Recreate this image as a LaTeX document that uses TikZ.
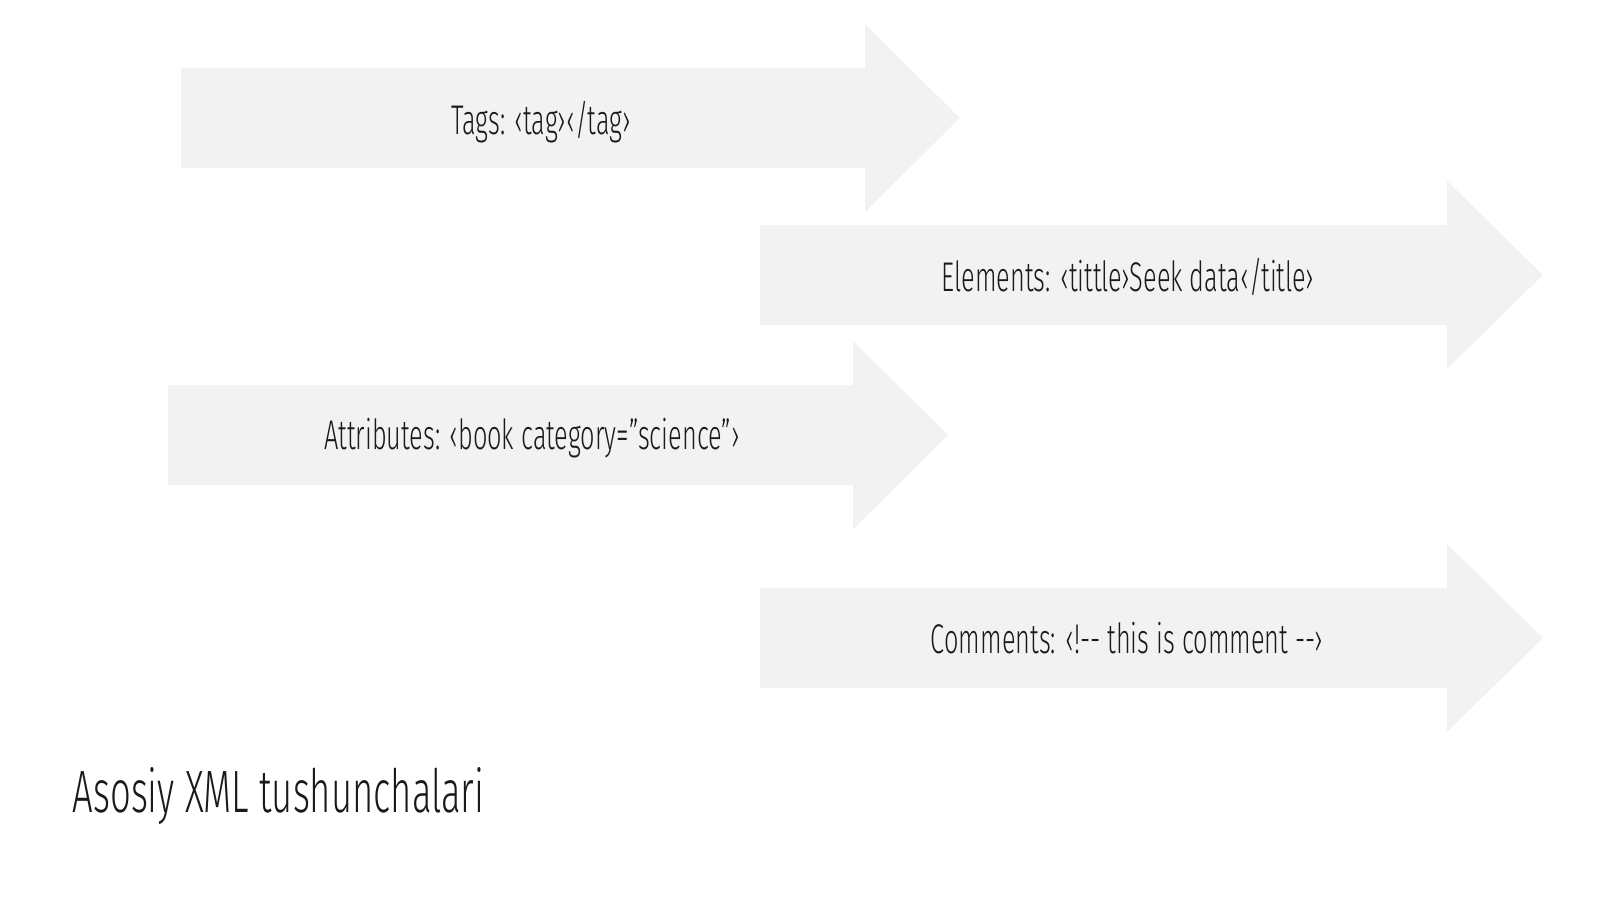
\documentclass[tikz,border=0pt]{standalone}
\usepackage{fontspec}
\setmainfont{Fira Sans Light}[FakeStretch=0.61]
\definecolor{arrowgray}{HTML}{F2F2F2}
\definecolor{inkdark}{HTML}{1A1A1A}
\tikzset{
	arrowfill/.style={fill=arrowgray, draw=none},
	arrowtext/.style={inner sep=0pt, anchor=base, text=inkdark, font=\fontsize{11.8}{14}\selectfont}
}
\begin{document}
\begin{tikzpicture}[x=0.01cm, y=-0.01cm, line join=round]
	%%%%%%%%%%%%%%%%%%%%%%%%%%%%%%%%%
	\useasboundingbox (0,0) rectangle (1600,900);
	%%%%%%%%%%%%%%%%%%%%%%%%%%%%%%%%%
	\foreach \xa/\xb/\xc/\yc in {181/865/960/118, 760/1447/1543/275, 168/853/948/435, 760/1447/1543/638}{
		\fill[arrowfill] (\xa,\yc-50) -- (\xb,\yc-50) -- (\xb,\yc-94) -- (\xc,\yc)
			-- (\xb,\yc+94) -- (\xb,\yc+50) -- (\xa,\yc+50) -- cycle;
	}
	%%%%%%%%%%%%%%%%%%%%%%%%%%%%%%%%%
	\node[arrowtext] (tags) at (541,134) {Tags: ‹tag›‹/tag›};
	\node[arrowtext] (elements) at (1128,291) {Elements: ‹tittle›Seek data‹/title›};
	\node[arrowtext] (attributes) at (532,449) {Attributes: ‹book category=”science”›};
	\node[arrowtext] (comments) at (1127,653) {Comments: ‹!-{}- this is comment -{}-›};
	%%%%%%%%%%%%%%%%%%%%%%%%%%%%%%%%%
	\node[inner sep=0pt, anchor=base west, text=inkdark, font=\fontsize{17}{20}\selectfont] (title) at (72,812) {Asosiy XML tushunchalari};
	%%%%%%%%%%%%%%%%%%%%%%%%%%%%%%%%%
\end{tikzpicture}
\end{document}
